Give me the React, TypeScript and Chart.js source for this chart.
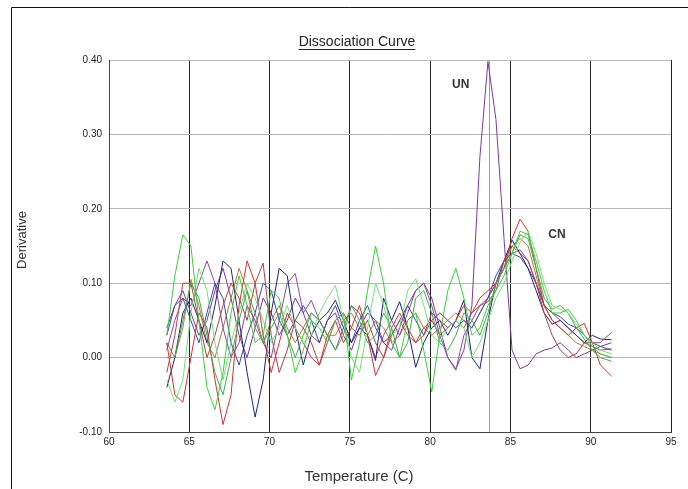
import React, { useEffect, useRef } from "react";
import { Chart, registerables } from "chart.js";

Chart.register(...registerables);

// Temperature (°C) sampling points
const temperatures = [
  63.6, 64.1, 64.6, 65.1, 65.6, 66.1, 66.6, 67.1, 67.6, 68.1,
  68.6, 69.1, 69.6, 70.1, 70.6, 71.1, 71.6, 72.1, 72.6, 73.1,
  73.6, 74.1, 74.6, 75.1, 75.6, 76.1, 76.6, 77.1, 77.6, 78.1,
  78.6, 79.1, 79.6, 80.1, 80.6, 81.1, 81.6, 82.1, 82.6, 83.1,
  83.6, 84.1, 84.6, 85.1, 85.6, 86.1, 86.6, 87.1, 87.6, 88.1,
  88.6, 89.1, 89.6, 90.1, 90.6, 91.3,
];

const green1 = [
  0.03, 0.11, 0.165, 0.15, 0.05, -0.04, -0.07, -0.02, 0.06, 0.11,
  0.07, 0.02, 0.03, 0.09, 0.08, 0.03, -0.02, 0.01, 0.05, 0.04,
  0.02, 0.05, 0.06, -0.03, 0.02, 0.09, 0.15, 0.1, 0.02, 0.0,
  0.05, 0.06, 0.01, -0.046, 0.03, 0.09, 0.12, 0.08, 0.03, 0.04,
  0.07, 0.09, 0.11, 0.14, 0.17, 0.165, 0.13, 0.09, 0.06, 0.06,
  0.065, 0.05, 0.03, 0.015, 0.005, 0.0,
];

const green2 = [
  -0.03, -0.06, -0.03, 0.06, 0.12, 0.09, 0.02, -0.03, 0.02, 0.06,
  0.1, 0.08, 0.05, 0.02, 0.04, 0.07, 0.04, 0.02, 0.03, 0.06,
  0.08, 0.097, 0.05, 0.0, -0.02, 0.04, 0.1, 0.07, 0.03, 0.04,
  0.09, 0.106, 0.07, 0.03, 0.02, 0.04, 0.05, 0.04, 0.0, 0.02,
  0.05, 0.08, 0.1, 0.13, 0.155, 0.17, 0.14, 0.1, 0.07, 0.065,
  0.06, 0.045, 0.03, 0.02, 0.01, 0.005,
];

const green3 = [
  0.0, 0.0, 0.05, 0.1, 0.08, 0.03, -0.02, -0.05, 0.0, 0.05,
  0.09, 0.06, 0.02, 0.04, 0.06, 0.03, 0.0, 0.03, 0.06, 0.05,
  0.03, 0.01, 0.03, 0.07, 0.05, 0.02, 0.03, 0.06, 0.04, 0.0,
  0.02, 0.08, 0.09, 0.06, 0.02, 0.01, 0.03, 0.06, 0.05, 0.03,
  0.06, 0.1, 0.12, 0.14, 0.165, 0.16, 0.12, 0.08, 0.065, 0.07,
  0.06, 0.04, 0.025, 0.01, 0.0, -0.005,
];

const red1 = [
  0.02, -0.05, -0.06, 0.0, 0.06, 0.04, -0.03, -0.09, -0.05, 0.07,
  0.13, 0.1, 0.03, -0.02, 0.02, 0.06, 0.04, 0.02, 0.0, -0.01,
  0.03, 0.05, 0.02, 0.04, 0.07, 0.03, -0.024, 0.0, 0.04, 0.06,
  0.04, 0.02, 0.03, 0.06, 0.05, 0.04, 0.05, 0.07, 0.06, 0.08,
  0.09, 0.1, 0.12, 0.16, 0.186, 0.17, 0.12, 0.07, 0.05, 0.04,
  0.03, 0.04, 0.046, 0.02, -0.01, -0.025,
];

const red2 = [
  -0.02, 0.03, 0.1, 0.1, 0.05, 0.0, 0.03, 0.07, 0.1, 0.08,
  0.05, 0.1, 0.127, 0.03, -0.02, 0.01, 0.05, 0.04, 0.02, -0.01,
  0.02, 0.05, 0.06, 0.04, 0.03, 0.05, 0.02, 0.0, 0.03, 0.05,
  0.03, 0.02, 0.04, 0.05, 0.03, 0.04, 0.05, 0.04, 0.06, 0.07,
  0.075, 0.09, 0.13, 0.15, 0.14, 0.13, 0.1, 0.06, 0.03, 0.01,
  0.0, 0.005, 0.02, 0.02, 0.02, 0.034,
];

const navy = [
  -0.04, 0.0, 0.06, 0.08, 0.05, 0.02, 0.07, 0.13, 0.12, 0.05,
  -0.02, -0.08, -0.03, 0.06, 0.12, 0.11, 0.04, -0.01, 0.03, 0.05,
  0.06, 0.077, 0.05, 0.02, 0.04, 0.03, -0.004, 0.08, 0.05, 0.075,
  0.04, -0.013, 0.02, 0.04, 0.05, 0.03, 0.05, 0.077, 0.0, -0.015,
  0.05, 0.1, 0.13, 0.158, 0.14, 0.12, 0.09, 0.06, 0.045, 0.05,
  0.04, 0.03, 0.02, 0.03, 0.025, 0.024,
];

const blue = [
  0.03, 0.07, 0.08, 0.05, 0.02, 0.06, 0.1, 0.08, 0.02, -0.01,
  0.03, 0.06, 0.1, 0.09, 0.05, 0.03, 0.05, 0.07, 0.05, 0.02,
  0.05, 0.07, 0.04, 0.02, 0.05, 0.07, 0.04, 0.02, 0.03, 0.05,
  0.07, 0.05, 0.03, 0.05, 0.06, 0.05, 0.04, 0.05, 0.04, 0.06,
  0.08, 0.11, 0.13, 0.14, 0.135, 0.12, 0.1, 0.07, 0.06, 0.055,
  0.045, 0.04, 0.03, 0.02, 0.015, 0.01,
];

const purple = [
  0.01, 0.05, 0.08, 0.07, 0.1, 0.13, 0.1, 0.04, 0.0, 0.02,
  0.07, 0.05, 0.02, 0.0, 0.05, 0.1, 0.113, 0.06, 0.077, 0.05,
  0.03, 0.01, 0.04, 0.07, 0.06, 0.03, 0.0, 0.03, 0.05, 0.03,
  0.06, 0.09, 0.1, 0.07, 0.03, 0.0, -0.017, 0.03, 0.05, 0.07,
  0.08, 0.1, 0.12, 0.14, 0.145, 0.13, 0.1, 0.07, 0.06, 0.05,
  0.04, 0.03, 0.02, 0.015, 0.01, 0.012,
];

const brown = [
  0.02, 0.0, 0.04, 0.105, 0.07, 0.02, 0.0, 0.04, 0.08, 0.12,
  0.09, 0.04, 0.02, 0.05, 0.07, 0.04, 0.02, 0.04, 0.06, 0.05,
  0.03, 0.03, 0.05, 0.06, 0.04, 0.03, 0.05, 0.04, 0.02, 0.03,
  0.05, 0.06, 0.04, 0.03, 0.04, 0.05, 0.06, 0.05, 0.04, 0.06,
  0.08, 0.1, 0.12, 0.15, 0.16, 0.15, 0.11, 0.07, 0.05, 0.04,
  0.03, 0.02, 0.015, 0.01, 0.005, 0.0,
];

const unSample = [
  0.04, 0.07, 0.09, 0.06, 0.03, 0.05, 0.09, 0.12, 0.08, 0.03,
  0.0, 0.04, 0.08, 0.06, 0.03, 0.05, 0.08, 0.06, 0.03, 0.02,
  0.05, 0.06, 0.03, 0.01, 0.04, 0.06, 0.05, 0.02, 0.01, 0.04,
  0.07, 0.09, 0.1, 0.08, 0.04, 0.0, -0.015, 0.01, 0.07, 0.27,
  0.398, 0.32, 0.16, 0.01, -0.015, -0.01, 0.005, 0.01, 0.013, 0.02,
  0.01, 0.0, 0.005, 0.01, 0.015, 0.02,
];

const seriesValues = [green1, green2, green3, red1, red2, navy, blue, purple, brown, unSample];
const seriesColors = [
  "#3fcc3f", "#77dd77", "#44aa55", "#cc3333", "#aa4444",
  "#222277", "#3a4aa8", "#8a4a9a", "#b07a3a", "#7a3a9a",
];

const xTickValues = [60, 65, 70, 75, 80, 85, 90, 95];
const yTickValues = [-0.1, 0.0, 0.1, 0.2, 0.3, 0.4];

const titleText = "Dissociation Curve";
const xTitleText = "Temperature (C)";
const yTitleText = "Derivative";
const markerTemp = 83.68;
const peakLabels = [
  { text: "UN", x: 81.9, y: 0.367 },
  { text: "CN", x: 87.9, y: 0.165 },
];

const FONT = "'Liberation Sans', Arial, Helvetica, sans-serif";

const overlayPlugin = {
  id: "overlay",
  beforeDatasetsDraw(chart: any) {
    const { ctx, chartArea, scales } = chart;
    const px = Math.round(scales.x.getPixelForValue(markerTemp)) + 0.5;
    ctx.save();
    ctx.strokeStyle = "#6cbf6c";
    ctx.lineWidth = 1;
    ctx.beginPath();
    ctx.moveTo(px, chartArea.top);
    ctx.lineTo(px, chartArea.bottom);
    ctx.stroke();
    ctx.restore();
  },
  afterDraw(chart: any) {
    const { ctx, scales } = chart;
    ctx.save();
    // outer frame
    ctx.strokeStyle = "#111";
    ctx.lineWidth = 1;
    ctx.beginPath();
    ctx.moveTo(11.5, 489);
    ctx.lineTo(11.5, 7.5);
    ctx.lineTo(688, 7.5);
    ctx.stroke();

    // title (underlined)
    ctx.fillStyle = "#222";
    ctx.font = `14px ${FONT}`;
    ctx.textAlign = "center";
    ctx.textBaseline = "middle";
    const tx = 357;
    const ty = 42;
    ctx.fillText(titleText, tx, ty);
    const w = ctx.measureText(titleText).width;
    ctx.strokeStyle = "#222";
    ctx.beginPath();
    ctx.moveTo(tx - w / 2, ty + 7.5);
    ctx.lineTo(tx + w / 2, ty + 7.5);
    ctx.stroke();

    // axis titles
    ctx.fillStyle = "#333";
    ctx.font = `15px ${FONT}`;
    ctx.fillText(xTitleText, 359, 477);
    ctx.font = `13px ${FONT}`;
    ctx.save();
    ctx.translate(22, 240);
    ctx.rotate(-Math.PI / 2);
    ctx.fillText(yTitleText, 0, 0);
    ctx.restore();

    // peak labels
    ctx.font = `bold 12px ${FONT}`;
    ctx.fillStyle = "#333";
    for (const l of peakLabels) {
      ctx.fillText(l.text, scales.x.getPixelForValue(l.x), scales.y.getPixelForValue(l.y));
    }
    ctx.restore();
  },
};

export default function App() {
  const canvasRef = useRef<HTMLCanvasElement | null>(null);

  useEffect(() => {
    const canvas = canvasRef.current;
    if (!canvas) return;
    const datasets = seriesValues.map((vals, i) => ({
      label: `S${i + 1}`,
      data: temperatures.map((t, j) => ({ x: t, y: vals[j] })),
      borderColor: seriesColors[i],
      backgroundColor: seriesColors[i],
      borderWidth: 1,
      pointRadius: 0,
      tension: 0,
      fill: false,
    }));
    const chart = new Chart(canvas, {
      type: "line",
      data: { datasets },
      options: {
        responsive: false,
        animation: false,
        devicePixelRatio: 1,
        layout: { padding: { left: 0, top: 60, right: 17, bottom: 0 } },
        plugins: {
          legend: { display: false },
          title: { display: false },
          tooltip: { enabled: false },
        },
        scales: {
          x: {
            type: "linear",
            min: 60,
            max: 95,
            afterFit: (s: any) => {
              s.height = 57;
            },
            afterBuildTicks: (s: any) => {
              s.ticks = xTickValues.map((v) => ({ value: v }));
            },
            ticks: {
              color: "#222",
              font: { family: FONT, size: 10 },
              padding: 4,
              maxRotation: 0,
              autoSkip: false,
            },
            grid: { color: "#222", lineWidth: 1, drawTicks: false },
            border: { display: true, color: "#444" },
          },
          y: {
            type: "linear",
            min: -0.1,
            max: 0.4,
            afterFit: (s: any) => {
              s.width = 109;
            },
            afterBuildTicks: (s: any) => {
              s.ticks = yTickValues.map((v) => ({ value: v }));
            },
            ticks: {
              color: "#222",
              font: { family: FONT, size: 10 },
              padding: 7,
              callback: (v: any) => Number(v).toFixed(2),
            },
            grid: {
              color: (c: any) => (c.tick && c.tick.value <= -0.099 ? "#444" : "#b8b8b8"),
              lineWidth: 1,
              drawTicks: false,
            },
            border: { display: true, color: "#444" },
          },
        },
      },
      plugins: [overlayPlugin],
    });
    return () => chart.destroy();
  }, []);

  return (
    <div style={{ position: "fixed", left: 0, top: 0, width: 688, height: 489, background: "#fff" }}>
      <canvas ref={canvasRef} width={688} height={489} style={{ display: "block" }} />
    </div>
  );
}
